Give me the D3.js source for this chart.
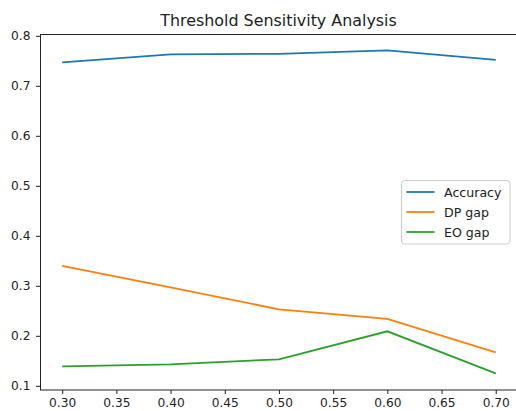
<!DOCTYPE html>
<html><head><meta charset="utf-8">
<script src="https://cdn.jsdelivr.net/npm/d3@7"></script>
<style>body{margin:0;background:#fff}svg{display:block}text{font-family:"DejaVu Sans",sans-serif}</style>
</head><body><svg id="c" width="516" height="411"></svg>
<script>
const thresholds = [0.3, 0.4, 0.5, 0.6, 0.7];
const accuracy = [0.747, 0.763, 0.764, 0.771, 0.752];
const dpGap = [0.340, 0.297, 0.253, 0.234, 0.167];
const eoGap = [0.139, 0.143, 0.153, 0.209, 0.125];
const seriesNames = ["Accuracy", "DP gap", "EO gap"];
const seriesColors = ["#1f77b4", "#ff7f0e", "#2ca02c"];
const xTicks = [0.30, 0.35, 0.40, 0.45, 0.50, 0.55, 0.60, 0.65, 0.70];
const yTicks = [0.1, 0.2, 0.3, 0.4, 0.5, 0.6, 0.7, 0.8];

const svg = d3.select("#c");
const L = 40.5, R = 517.4, T = 34.5, B = 390;
const x = d3.scaleLinear().domain([0.28, 0.72]).range([L, R]);
const y = d3.scaleLinear().domain([0.0916, 0.8026]).range([B, T]);

svg.append("text").attr("x", 278.5).attr("y", 25.7).attr("text-anchor", "middle")
  .attr("font-size", 15.9).attr("fill", "#222").text("Threshold Sensitivity Analysis");

const gx = svg.append("g").attr("transform", `translate(0,${B})`)
  .call(d3.axisBottom(x).tickValues(xTicks).tickFormat(d3.format(".2f")).tickSize(4).tickPadding(4));
const gy = svg.append("g").attr("transform", `translate(${L},0)`)
  .call(d3.axisLeft(y).tickValues(yTicks).tickFormat(d3.format(".1f")).tickSize(4.5).tickPadding(5.5));
[gx, gy].forEach(g => {
  g.selectAll("text").attr("font-size", 12.2).attr("fill", "#222").attr("font-family", "DejaVu Sans");
  g.selectAll("line").attr("stroke", "#222");
  g.select(".domain").remove();
});
svg.append("rect").attr("x", L).attr("y", T).attr("width", R - L).attr("height", B - T)
  .attr("fill", "none").attr("stroke", "#222").attr("stroke-width", 1);

const all = [accuracy, dpGap, eoGap];
const line = d3.line().x((d, i) => x(thresholds[i])).y(d => y(d));
all.forEach((s, k) => {
  svg.append("path").datum(s).attr("d", line).attr("fill", "none")
    .attr("stroke", seriesColors[k]).attr("stroke-width", 1.8);
});

const lg = svg.append("g").attr("transform", "translate(401.5,180.5)");
lg.append("rect").attr("width", 108.5).attr("height", 63.5).attr("rx", 3)
  .attr("fill", "#fff").attr("fill-opacity", 0.8).attr("stroke", "#ccc");
seriesNames.forEach((n, k) => {
  const yy = 11.5 + k * 20;
  lg.append("line").attr("x1", 5).attr("x2", 33).attr("y1", yy).attr("y2", yy)
    .attr("stroke", seriesColors[k]).attr("stroke-width", 1.8);
  lg.append("text").attr("x", 42.5).attr("y", yy + 4.5).attr("font-size", 12.6).attr("fill", "#222").text(n);
});
</script></body></html>
